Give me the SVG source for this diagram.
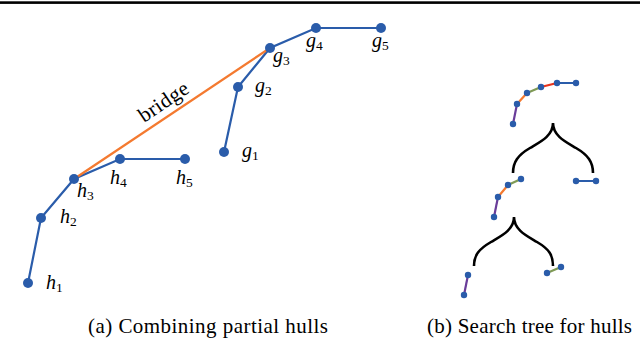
<svg xmlns="http://www.w3.org/2000/svg" width="640" height="339" viewBox="0 0 640 339">
<style>
.e{fill:none;stroke-width:2.2;stroke-linecap:round}
.b{stroke:#2a5caa}.o{stroke:#f47a30}.p{stroke:#6a3d9a}.g{stroke:#7f9a55}.r{stroke:#e8331c}
.n{fill:#2a5caa}
.brace{fill:none;stroke:#000;stroke-width:2.6}
.lab{font-family:"Liberation Serif",serif;font-style:italic;font-size:20px;fill:#000}
.sub{font-size:13.5px;font-style:normal}
.cap{font-family:"Liberation Serif",serif;font-size:21px;fill:#000}
</style>
<rect x="0" y="1.3" width="640" height="2.6" fill="#000"/>
<g id="connectors">
<polyline class="e b" points="28,283 41,218 74,179 120,159 185,159"/>
<polyline class="e b" points="224,152 238,87 270,48 316,28 381,28"/>
<line class="e o" x1="74" y1="179" x2="270" y2="48"/>
<line class="e p" x1="513" y1="124" x2="517" y2="104"/>
<line class="e o" x1="517" y1="104" x2="527" y2="93"/>
<line class="e g" x1="527" y1="93" x2="541" y2="87"/>
<line class="e r" x1="541" y1="87" x2="557" y2="83"/>
<line class="e b" x1="557" y1="83" x2="576" y2="83"/>
<line class="e g" x1="521" y1="179" x2="508" y2="185"/>
<line class="e o" x1="508" y1="185" x2="498" y2="197"/>
<line class="e p" x1="498" y1="197" x2="494" y2="217"/>
<line class="e b" x1="576" y1="181" x2="596" y2="181"/>
<line class="e p" x1="468" y1="275" x2="464" y2="295"/>
<line class="e g" x1="547" y1="273" x2="561" y2="267"/>
<path class="brace" d="M553,123 C553,136 540,142 530,148 C518,155 513,162 513,173 M553,123 C553,136 566,142 576,148 C588,155 593,162 593,173"/>
<path class="brace" d="M514,217 C514,230 501,236 491,242 C479,249 474,255 474,266 M514,217 C514,230 527,236 537,242 C549,249 553,255 553,266"/>
</g>
<g id="hull-h">
<circle class="n" cx="28" cy="283" r="5"/><circle class="n" cx="41" cy="218" r="5"/><circle class="n" cx="74" cy="179" r="5"/><circle class="n" cx="120" cy="159" r="5"/><circle class="n" cx="185" cy="159" r="5"/>
<text class="lab" x="46" y="289">h<tspan class="sub" dy="3">1</tspan></text>
<text class="lab" x="60" y="223">h<tspan class="sub" dy="3">2</tspan></text>
<text class="lab" x="77" y="197">h<tspan class="sub" dy="3">3</tspan></text>
<text class="lab" x="110" y="184">h<tspan class="sub" dy="3">4</tspan></text>
<text class="lab" x="176" y="184">h<tspan class="sub" dy="3">5</tspan></text>
</g>
<g id="hull-g">
<circle class="n" cx="224" cy="152" r="5"/><circle class="n" cx="238" cy="87" r="5"/><circle class="n" cx="270" cy="48" r="5"/><circle class="n" cx="316" cy="28" r="5"/><circle class="n" cx="381" cy="28" r="5"/>
<text class="lab" x="242" y="157">g<tspan class="sub" dy="3">1</tspan></text>
<text class="lab" x="255" y="92">g<tspan class="sub" dy="3">2</tspan></text>
<text class="lab" x="273" y="62">g<tspan class="sub" dy="3">3</tspan></text>
<text class="lab" x="306" y="47">g<tspan class="sub" dy="3">4</tspan></text>
<text class="lab" x="372" y="47">g<tspan class="sub" dy="3">5</tspan></text>
</g>
<g id="bridge-label">
<text class="cap" transform="translate(144,123) rotate(-33.8)" x="0" y="0" textLength="56" lengthAdjust="spacing">bridge</text>
</g>
<g id="tree">
<circle class="n" cx="513" cy="124" r="3.2"/><circle class="n" cx="517" cy="104" r="3.2"/><circle class="n" cx="527" cy="93" r="3.2"/><circle class="n" cx="541" cy="87" r="3.2"/><circle class="n" cx="557" cy="83" r="3.2"/><circle class="n" cx="576" cy="83" r="3.2"/>
<circle class="n" cx="521" cy="179" r="3.2"/><circle class="n" cx="508" cy="185" r="3.2"/><circle class="n" cx="498" cy="197" r="3.2"/><circle class="n" cx="494" cy="217" r="3.2"/>
<circle class="n" cx="576" cy="181" r="3.2"/><circle class="n" cx="596" cy="181" r="3.2"/>
<circle class="n" cx="468" cy="275" r="3.2"/><circle class="n" cx="464" cy="295" r="3.2"/>
<circle class="n" cx="547" cy="273" r="3.2"/><circle class="n" cx="561" cy="267" r="3.2"/>
</g>
<g id="captions">
<text class="cap" x="88" y="333" textLength="240" lengthAdjust="spacing">(a) Combining partial hulls</text>
<text class="cap" x="427" y="333" textLength="205" lengthAdjust="spacing">(b) Search tree for hulls</text>
</g>
</svg>
